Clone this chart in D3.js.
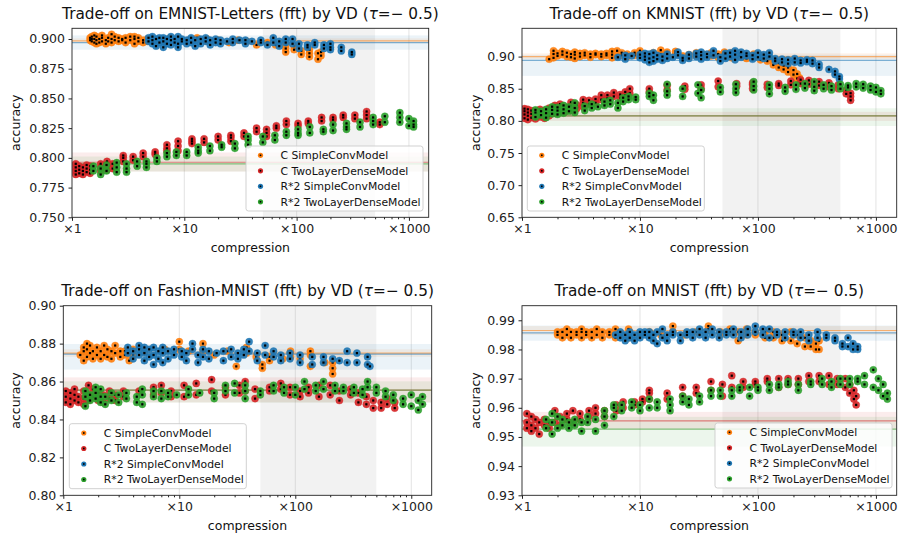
<!DOCTYPE html>
<html>
<head>
<meta charset="utf-8">
<script src="https://cdn.jsdelivr.net/npm/d3@7"></script>
<style>
  body { margin: 0; background: #fff; }
  svg { font-family: "DejaVu Sans", sans-serif; }
</style>
</head>
<body>
<svg id="chart" width="900" height="537"></svg>
<script>
// ---- shared labels ----
const seriesNames = ["C SimpleConvModel", "C TwoLayerDenseModel", "R*2 SimpleConvModel", "R*2 TwoLayerDenseModel"];
const seriesColors = ["#ff7f0e", "#d62728", "#1f77b4", "#2ca02c"];
const xTickValues = [1, 10, 100, 1000];
const xTickLabels = ["×1", "×10", "×100", "×1000"];
const shadeRange = [50, 500];

// ---- EMNIST-Letters: [compression, [accuracy runs]] ----
const emnistConvC = [[1.45,[0.899,0.901]],[1.5,[0.900,0.898,0.902]],[1.58,[0.897,0.900,0.903]],[1.65,[0.899,0.896,0.902]],[1.75,[0.900,0.897]],[1.85,[0.898,0.901,0.903]],[2.0,[0.899,0.896]],[2.1,[0.901,0.898]],[2.25,[0.900,0.904,0.897]],[2.4,[0.899,0.902]],[2.6,[0.898,0.901]],[2.8,[0.899,0.900]],[3.0,[0.897,0.901]],[3.3,[0.899,0.902]],[3.6,[0.900,0.902,0.896]],[3.9,[0.898,0.901]],[4.3,[0.899,0.897]],[4.7,[0.900,0.898]],[6.5,[0.899]],[7.5,[0.901]],[9,[0.900]],[11,[0.899]],[13,[0.901]],[16,[0.900,0.898]],[20,[0.899]],[25,[0.897]],[30,[0.899]],[36,[0.898]],[44,[0.895]],[55,[0.897]],[65,[0.895]],[80,[0.889,0.892,0.895]],[95,[0.891,0.894]],[110,[0.887,0.890]],[130,[0.885,0.888,0.891]],[155,[0.883,0.888]],[165,[0.886,0.889]]];
const emnistDenseC = [[1.08,[0.786,0.789,0.792,0.795]],[1.16,[0.787,0.790,0.793]],[1.25,[0.786,0.789,0.792]],[1.35,[0.788,0.791,0.794]],[1.45,[0.787,0.790,0.793]],[1.8,[0.789,0.792,0.795]],[2.05,[0.790,0.794,0.797]],[2.3,[0.791,0.795]],[2.86,[0.797,0.800,0.802]],[3.5,[0.798,0.801]],[4.3,[0.801,0.804]],[5.5,[0.803,0.805]],[7,[0.806,0.808,0.811]],[8.8,[0.806,0.810,0.814]],[11.7,[0.812,0.814,0.816]],[15,[0.813,0.816]],[20,[0.815,0.818]],[26,[0.814,0.817,0.819]],[34,[0.818,0.821]],[44,[0.822,0.825]],[54,[0.818,0.821,0.824]],[66,[0.825,0.827]],[81,[0.828,0.831]],[103,[0.827,0.829]],[127,[0.829,0.831]],[167,[0.831,0.834]],[211,[0.832,0.834]],[260,[0.834,0.836]],[330,[0.833,0.836]],[420,[0.833,0.836,0.839]],[550,[0.828,0.830]]];
const emnistConvR = [[4.8,[0.898,0.901]],[5.2,[0.896,0.899,0.902]],[5.6,[0.894,0.900]],[6.0,[0.897,0.901]],[6.5,[0.893,0.898,0.901]],[7.0,[0.896,0.900]],[7.6,[0.895,0.899,0.902]],[8.2,[0.897,0.900]],[8.8,[0.893,0.896,0.902]],[9.5,[0.898,0.900]],[10.5,[0.896,0.899]],[11.5,[0.897,0.901]],[12.5,[0.894,0.899]],[14,[0.896,0.900]],[15.5,[0.898,0.901]],[17,[0.895,0.899]],[19,[0.897,0.900]],[21,[0.896,0.899]],[24,[0.898]],[27,[0.897,0.900]],[31,[0.899]],[35,[0.896,0.899]],[40,[0.898]],[48,[0.897,0.899]],[55,[0.895]],[62,[0.897,0.901]],[70,[0.894,0.898]],[80,[0.897,0.900]],[92,[0.896,0.900]],[105,[0.892,0.896]],[125,[0.893,0.895]],[145,[0.895,0.897]],[175,[0.892,0.895]],[200,[0.891,0.893,0.896]],[250,[0.890,0.893]],[310,[0.887,0.889]]];
const emnistDenseR = [[1.55,[0.789,0.793]],[1.8,[0.786,0.791]],[2.03,[0.789,0.794]],[2.5,[0.788,0.792,0.796]],[3.06,[0.788,0.791,0.795]],[3.8,[0.793,0.797]],[4.6,[0.792,0.795,0.797]],[5.7,[0.797,0.800]],[7,[0.801,0.804]],[8.5,[0.802,0.805]],[10.5,[0.802,0.805]],[13.3,[0.804,0.806,0.809]],[16.9,[0.806,0.810]],[21.5,[0.809,0.811]],[28.2,[0.808,0.812]],[37,[0.811,0.815,0.818]],[50,[0.813,0.818]],[64,[0.815,0.819]],[81,[0.819,0.822]],[103,[0.819,0.821,0.824]],[131,[0.821,0.826]],[173,[0.822,0.824]],[211,[0.823,0.828]],[278,[0.824,0.826,0.829]],[367,[0.826,0.830]],[480,[0.828,0.831,0.834]],[610,[0.830,0.835]],[830,[0.830,0.834,0.838]],[1000,[0.827,0.833]],[1100,[0.826,0.828,0.831]]];
const emnistBase = [[0.8985,0.8965,0.9005],[0.7963,0.7885,0.8045],[0.8970,0.8910,0.9030],[0.7950,0.7885,0.8011]];

// ---- KMNIST ----
const kmnistConvC = [[1.7,[0.896]],[1.85,[0.898,0.904,0.909]],[2.0,[0.901,0.905]],[2.2,[0.903,0.908]],[2.4,[0.900,0.906]],[2.6,[0.899,0.904]],[2.8,[0.897,0.903,0.907]],[3.1,[0.900,0.905]],[3.4,[0.902,0.906]],[3.8,[0.899,0.904]],[4.2,[0.903,0.905]],[4.7,[0.900,0.904]],[5.2,[0.902,0.905]],[5.8,[0.898,0.903,0.908]],[6.4,[0.901,0.909]],[7.0,[0.902,0.906]],[7.8,[0.900,0.904]],[9.0,[0.902,0.906]],[10,[0.905,0.909]],[11.5,[0.903]],[13,[0.906]],[15,[0.904,0.910]],[17,[0.902,0.907]],[20,[0.905,0.908]],[23,[0.901]],[26,[0.899,0.903]],[30,[0.902,0.906]],[35,[0.903]],[40,[0.901,0.906]],[46,[0.899,0.904]],[52,[0.902,0.907]],[60,[0.898,0.906]],[70,[0.901,0.905]],[80,[0.897,0.903]],[92,[0.900,0.904]],[105,[0.895,0.902]],[120,[0.893,0.899]],[135,[0.887,0.894]],[150,[0.883,0.890]],[165,[0.880,0.886]],[180,[0.876,0.883]],[200,[0.872,0.879]],[215,[0.866,0.873]],[225,[0.862,0.867]]];
const kmnistDenseC = [[1.05,[0.804,0.810,0.815,0.819]],[1.12,[0.802,0.808,0.813,0.818]],[1.2,[0.805,0.811,0.816]],[1.3,[0.803,0.809,0.815]],[1.42,[0.806,0.812,0.818]],[1.55,[0.804,0.810,0.816]],[1.7,[0.808,0.814,0.820]],[1.9,[0.812,0.818,0.824]],[2.1,[0.814,0.820,0.826]],[2.35,[0.815,0.821]],[2.6,[0.816,0.823,0.829]],[2.9,[0.819,0.825]],[3.3,[0.822,0.828,0.833]],[3.7,[0.826,0.832]],[4.2,[0.828,0.834]],[4.7,[0.833,0.840]],[5.3,[0.835,0.840]],[6.0,[0.838,0.844]],[6.8,[0.836,0.841]],[7.5,[0.840,0.845]],[8.2,[0.843,0.850]],[12,[0.845,0.850]],[17,[0.848,0.855]],[24,[0.849,0.854]],[33,[0.850,0.856]],[46,[0.853,0.862]],[66,[0.854,0.858]],[90,[0.850,0.856,0.859]],[120,[0.852,0.857]],[150,[0.855,0.858]],[190,[0.856,0.862]],[230,[0.858,0.864]],[270,[0.857,0.863]],[330,[0.855,0.861]],[400,[0.853,0.859]],[480,[0.850,0.856]],[560,[0.842,0.848]],[610,[0.832,0.838,0.843]]];
const kmnistConvR = [[6.5,[0.899]],[7.5,[0.896,0.902]],[8.5,[0.901]],[10,[0.898,0.903]],[11,[0.895,0.900,0.905]],[12,[0.891,0.897,0.904]],[13,[0.893,0.899,0.906]],[14,[0.896,0.902]],[15.5,[0.894,0.900]],[17,[0.897,0.904]],[19,[0.899]],[21,[0.902,0.907]],[23,[0.894,0.898]],[26,[0.897,0.903]],[30,[0.900,0.905]],[33,[0.896,0.902,0.907]],[37,[0.899,0.904]],[42,[0.902,0.909]],[48,[0.893,0.899]],[53,[0.897,0.905]],[58,[0.900,0.906]],[64,[0.895,0.903,0.909]],[72,[0.899,0.907]],[80,[0.901,0.905]],[90,[0.896,0.902]],[100,[0.899,0.906]],[112,[0.897,0.903]],[125,[0.900,0.906]],[140,[0.893,0.897]],[160,[0.891,0.896]],[180,[0.889,0.895]],[205,[0.891,0.897]],[230,[0.890,0.894]],[260,[0.892,0.895]],[290,[0.889,0.894]],[330,[0.883,0.888]],[400,[0.880]],[450,[0.872,0.877]],[490,[0.865,0.869]]];
const kmnistDenseR = [[1.3,[0.806,0.813,0.817]],[1.45,[0.809,0.815]],[1.6,[0.805,0.812,0.818]],[1.8,[0.811,0.817,0.822]],[2.0,[0.810,0.816,0.821]],[2.25,[0.812,0.818,0.824]],[2.5,[0.815,0.822]],[2.8,[0.813,0.820,0.828]],[3.4,[0.816,0.823]],[3.9,[0.820,0.826]],[4.4,[0.822]],[5.0,[0.824,0.830]],[5.6,[0.826,0.832]],[6.5,[0.820,0.828]],[7.2,[0.830,0.836]],[8.0,[0.833,0.838]],[9.2,[0.833,0.837]],[12,[0.838,0.843]],[13,[0.832,0.840]],[17,[0.840,0.846,0.857]],[23,[0.838,0.850]],[31,[0.843,0.856]],[33,[0.836,0.848]],[48,[0.845,0.852]],[65,[0.844,0.850,0.857]],[92,[0.848,0.854,0.861]],[125,[0.842,0.850,0.856]],[170,[0.846,0.852]],[210,[0.849,0.856]],[250,[0.851,0.858]],[300,[0.847,0.853,0.861]],[360,[0.850,0.856]],[420,[0.848,0.854]],[500,[0.850,0.857]],[580,[0.852,0.855]],[680,[0.853,0.858]],[780,[0.851,0.857]],[900,[0.848,0.854]],[1000,[0.845,0.852]],[1100,[0.842,0.847]]];
const kmnistBase = [[0.9000,0.8960,0.9050],[0.8077,0.8000,0.8140],[0.8940,0.8700,0.9026],[0.8077,0.7920,0.8196]];

// ---- Fashion-MNIST ----
const fashionConvC = [[1.4,[0.874]],[1.5,[0.871,0.876,0.878]],[1.6,[0.873,0.877,0.880]],[1.7,[0.875,0.879]],[1.8,[0.872,0.876]],[1.95,[0.874,0.878]],[2.1,[0.872,0.876]],[2.25,[0.874,0.879]],[2.4,[0.873,0.877]],[2.6,[0.872,0.876]],[2.8,[0.875,0.879]],[3.1,[0.873,0.876]],[3.4,[0.874,0.876]],[3.7,[0.871,0.875]],[4.0,[0.874,0.877]],[5.0,[0.876]],[7.5,[0.877]],[10,[0.877,0.881]],[12,[0.876]],[16,[0.876,0.880]],[20,[0.874]],[26,[0.876]],[31,[0.868]],[38,[0.875,0.878]],[46,[0.873]],[52,[0.867,0.869]],[60,[0.871,0.873]],[78,[0.872]],[91,[0.873,0.876]],[110,[0.872]],[135,[0.868,0.874,0.876]],[180,[0.870]],[210,[0.864,0.867,0.870]]];
const fashionDenseC = [[1.05,[0.849,0.852,0.855]],[1.15,[0.848,0.851,0.854]],[1.25,[0.850,0.853,0.856]],[1.35,[0.849,0.852]],[1.5,[0.848,0.851,0.855]],[1.65,[0.850,0.853,0.858]],[1.8,[0.852,0.856]],[2.0,[0.850,0.854]],[2.2,[0.849,0.853]],[2.5,[0.851,0.855]],[2.8,[0.850,0.853]],[3.3,[0.852,0.855]],[4.5,[0.855]],[6.0,[0.853,0.857]],[7.0,[0.854,0.858]],[8.5,[0.852,0.855]],[11,[0.852,0.858]],[14,[0.853,0.859]],[19,[0.855,0.861]],[25,[0.853,0.857]],[33,[0.854,0.858]],[37,[0.855,0.860]],[45,[0.851,0.856]],[60,[0.855,0.857]],[75,[0.856,0.859]],[90,[0.853,0.857]],[110,[0.852,0.855]],[130,[0.854,0.857]],[160,[0.852,0.858]],[200,[0.853,0.858]],[240,[0.850,0.855]],[300,[0.853,0.856]],[350,[0.849,0.854]],[410,[0.848,0.852]],[470,[0.846,0.850]],[550,[0.846,0.849]],[620,[0.848,0.851]],[720,[0.846,0.849]]];
const fashionConvR = [[3.6,[0.875,0.878]],[4.0,[0.872,0.876]],[4.5,[0.874,0.877,0.879]],[5.0,[0.871,0.875,0.878]],[5.5,[0.873,0.877]],[6.0,[0.869,0.874,0.878]],[6.6,[0.872,0.876]],[7.2,[0.870,0.875,0.878]],[8.0,[0.872,0.876]],[9.0,[0.874,0.877]],[10.5,[0.873,0.876]],[11.5,[0.871,0.875]],[13,[0.877,0.880]],[14.5,[0.870,0.874]],[16,[0.873,0.877]],[18,[0.872,0.876]],[21,[0.875]],[24,[0.871,0.876]],[28,[0.873,0.877]],[32,[0.872,0.875]],[36,[0.874,0.877]],[40,[0.876,0.881]],[47,[0.871,0.875]],[55,[0.874,0.879]],[65,[0.873,0.876]],[75,[0.871,0.874]],[90,[0.872,0.875]],[110,[0.870,0.874]],[140,[0.869,0.873]],[175,[0.870,0.873]],[210,[0.872]],[240,[0.871]],[280,[0.870,0.876]],[340,[0.870,0.875]],[420,[0.869,0.873]],[440,[0.868]]];
const fashionDenseR = [[1.55,[0.847,0.852,0.855]],[1.7,[0.850,0.853]],[1.9,[0.851,0.854,0.857]],[2.1,[0.849,0.852,0.856]],[2.3,[0.848,0.852]],[2.6,[0.850,0.854]],[3.0,[0.849,0.853]],[3.5,[0.851,0.854]],[4.3,[0.849,0.852]],[4.8,[0.848,0.853,0.856]],[6.0,[0.852,0.855]],[7.0,[0.851,0.855]],[8.0,[0.852,0.854]],[9.5,[0.853]],[12,[0.853,0.856]],[15,[0.854]],[20,[0.851,0.854]],[25,[0.855,0.858]],[30,[0.854,0.859]],[37,[0.851,0.855,0.858]],[50,[0.853,0.855]],[65,[0.855,0.858]],[80,[0.854,0.857]],[100,[0.853,0.857]],[120,[0.856,0.860]],[150,[0.855,0.858]],[175,[0.856,0.860]],[220,[0.855,0.858]],[260,[0.855,0.857]],[320,[0.854,0.857]],[380,[0.853,0.856]],[420,[0.857,0.860]],[500,[0.854,0.857]],[600,[0.852,0.855]],[700,[0.850,0.853]],[850,[0.848,0.851]],[1000,[0.847,0.853]],[1150,[0.845,0.850]],[1250,[0.848,0.852]]];
const fashionBase = [[0.8750,0.8730,0.8770],[0.8555,0.8490,0.8622],[0.8745,0.8663,0.8798],[0.8555,0.8489,0.8601]];

// ---- MNIST ----
const mnistConvC = [[2.0,[0.985,0.986]],[2.2,[0.984,0.986]],[2.4,[0.985,0.987]],[2.6,[0.984,0.986]],[2.9,[0.985,0.986]],[3.2,[0.984,0.986,0.987]],[3.5,[0.985,0.986]],[3.9,[0.984,0.986]],[4.3,[0.985,0.987]],[4.8,[0.984,0.986]],[5.5,[0.985,0.986]],[6.2,[0.984,0.987]],[7,[0.985]],[8,[0.984,0.987]],[10,[0.985]],[12,[0.986]],[15,[0.985]],[19,[0.986,0.988]],[24,[0.985]],[30,[0.986]],[38,[0.987,0.988]],[48,[0.985,0.986]],[58,[0.986,0.987]],[68,[0.983,0.986]],[80,[0.985,0.987]],[95,[0.985,0.986]],[115,[0.984,0.986]],[135,[0.984,0.986]],[160,[0.983,0.985]],[190,[0.983,0.986]],[215,[0.982,0.985]],[250,[0.981,0.984]],[280,[0.981,0.983]],[310,[0.980,0.982]],[330,[0.980,0.983]]];
const mnistDenseC = [[1.1,[0.953,0.955,0.958]],[1.2,[0.952,0.954,0.957]],[1.3,[0.953,0.956]],[1.4,[0.951,0.955]],[1.55,[0.954,0.956]],[1.7,[0.953,0.955]],[1.9,[0.955,0.959]],[2.1,[0.954,0.957]],[2.4,[0.956,0.958]],[2.7,[0.955,0.959]],[3.1,[0.956,0.958]],[3.7,[0.957,0.959]],[4.2,[0.958,0.960]],[5.0,[0.957,0.959]],[6.3,[0.959,0.961]],[7.2,[0.960,0.962]],[9,[0.961,0.962]],[10.5,[0.962,0.963]],[12,[0.963,0.965,0.966]],[17,[0.963,0.965]],[23,[0.964,0.967]],[30,[0.965,0.967]],[40,[0.966,0.969]],[50,[0.964,0.968]],[60,[0.967,0.971]],[75,[0.967,0.969]],[95,[0.968,0.969]],[120,[0.969,0.970]],[150,[0.967,0.970]],[180,[0.968,0.970]],[220,[0.968,0.970]],[270,[0.969,0.971]],[330,[0.969,0.971]],[400,[0.968,0.971]],[470,[0.968,0.970]],[550,[0.967,0.970]],[600,[0.965,0.968]],[650,[0.963,0.966]],[680,[0.961,0.964]]];
const mnistConvR = [[6.2,[0.985]],[6.8,[0.984,0.986]],[7.5,[0.983,0.985]],[8.2,[0.984,0.986]],[9,[0.983,0.985]],[10,[0.984,0.986]],[11,[0.985,0.986]],[12,[0.984,0.986]],[13,[0.983,0.985]],[14,[0.982,0.986]],[15.5,[0.984,0.987]],[17,[0.983,0.985]],[19,[0.985,0.986]],[22,[0.983,0.985]],[25,[0.985,0.986]],[28,[0.984,0.986]],[32,[0.985,0.987]],[36,[0.984,0.986]],[41,[0.985,0.987]],[47,[0.984,0.986]],[54,[0.985,0.986]],[62,[0.985,0.987]],[72,[0.984,0.986]],[82,[0.985,0.987]],[95,[0.986,0.988]],[110,[0.985,0.987]],[125,[0.984,0.987]],[145,[0.985,0.986]],[170,[0.984,0.986]],[200,[0.985,0.986]],[230,[0.984,0.986]],[270,[0.983,0.985]],[320,[0.984,0.986]],[380,[0.984,0.985]],[450,[0.983,0.984]],[520,[0.981,0.982]],[580,[0.981,0.984]],[640,[0.980,0.982]],[700,[0.980,0.981]]];
const mnistDenseR = [[1.6,[0.953,0.956]],[1.8,[0.951,0.955,0.958]],[2.0,[0.953,0.957]],[2.2,[0.954,0.956]],[2.5,[0.953,0.955]],[2.8,[0.954,0.956]],[3.2,[0.952,0.955]],[3.6,[0.955,0.957]],[4.2,[0.952,0.956]],[5.0,[0.954,0.957,0.959]],[6.0,[0.957,0.960,0.961]],[7.0,[0.959,0.961]],[8.5,[0.960,0.962]],[10,[0.959,0.961]],[12,[0.960,0.963]],[14,[0.960,0.962]],[18,[0.959,0.961,0.963]],[23,[0.962,0.964]],[26,[0.961,0.963]],[32,[0.962,0.964]],[40,[0.964,0.966]],[48,[0.964,0.966]],[60,[0.964,0.966]],[70,[0.966,0.967]],[85,[0.964,0.967]],[100,[0.966,0.967]],[125,[0.966,0.968]],[150,[0.967,0.968]],[180,[0.968,0.969]],[220,[0.966,0.968]],[280,[0.968,0.969]],[350,[0.968,0.970]],[420,[0.967,0.969]],[500,[0.968,0.970]],[600,[0.968,0.970]],[700,[0.969,0.970]],[800,[0.968,0.971]],[950,[0.967,0.973]],[1050,[0.966,0.970]],[1150,[0.964,0.968]],[1250,[0.963,0.965]]];
const mnistBase = [[0.9865,0.9850,0.9880],[0.9555,0.9525,0.9586],[0.9857,0.9830,0.9882],[0.9527,0.9467,0.9569]];

// y ticks per panel
const emnistYTicks = [0.750, 0.775, 0.800, 0.825, 0.850, 0.875, 0.900];
const kmnistYTicks = [0.65, 0.70, 0.75, 0.80, 0.85, 0.90];
const fashionYTicks = [0.80, 0.82, 0.84, 0.86, 0.88, 0.90];
const mnistYTicks = [0.93, 0.94, 0.95, 0.96, 0.97, 0.98, 0.99];

// half-length of error bars (accuracy units)
const errHalf = [0.0025, 0.004, 0.0015, 0.0007];

const panels = [
  { name: "EMNIST-Letters", box: [72, 28.3, 428.7, 217.3], yDomain: [0.75, 0.909], yTicks: emnistYTicks, fmt: ".3f",
    series: [emnistConvC, emnistDenseC, emnistConvR, emnistDenseR], base: emnistBase, err: errHalf[0], legend: [246, 146] },
  { name: "KMNIST", box: [522, 28.3, 896.7, 217.3], yDomain: [0.65, 0.944], yTicks: kmnistYTicks, fmt: ".2f",
    series: [kmnistConvC, kmnistDenseC, kmnistConvR, kmnistDenseR], base: kmnistBase, err: errHalf[1], legend: [527.3, 146] },
  { name: "Fashion-MNIST", box: [63.3, 305.7, 431.7, 495.3], yDomain: [0.80, 0.90], yTicks: fashionYTicks, fmt: ".2f",
    series: [fashionConvC, fashionDenseC, fashionConvR, fashionDenseR], base: fashionBase, err: errHalf[2], legend: [69.3, 423.7] },
  { name: "MNIST", box: [522, 305.7, 896.7, 495.3], yDomain: [0.93, 0.995], yTicks: mnistYTicks, fmt: ".2f",
    series: [mnistConvC, mnistDenseC, mnistConvR, mnistDenseR], base: mnistBase, err: errHalf[3], legend: [715, 423] }
];

const svg = d3.select("#chart");

panels.forEach(p => {
  const [x0, y0, x1, y1] = p.box;
  const x = d3.scaleLog().domain([1, 1500]).range([x0, x1]);
  const y = d3.scaleLinear().domain(p.yDomain).range([y1, y0]);
  const g = svg.append("g");

  const clipId = "clip-" + p.name.replace(/\W/g, "");
  svg.append("clipPath").attr("id", clipId)
    .append("rect").attr("x", x0).attr("y", y0).attr("width", x1 - x0).attr("height", y1 - y0);
  const inner = g.append("g").attr("clip-path", `url(#${clipId})`);

  // shaded compression window
  inner.append("rect")
    .attr("x", x(shadeRange[0])).attr("y", y0)
    .attr("width", x(shadeRange[1]) - x(shadeRange[0])).attr("height", y1 - y0)
    .attr("fill", "#000").attr("fill-opacity", 0.05);

  // vertical grid at decades
  inner.selectAll("line.grid").data(xTickValues.slice(1)).join("line")
    .attr("x1", d => x(d)).attr("x2", d => x(d)).attr("y1", y0).attr("y2", y1)
    .attr("stroke", "#b0b0b0").attr("stroke-opacity", 0.35).attr("stroke-width", 1);

  // baseline bands + lines
  p.base.forEach((b, i) => {
    inner.append("rect")
      .attr("x", x0).attr("width", x1 - x0)
      .attr("y", y(b[2])).attr("height", y(b[1]) - y(b[2]))
      .attr("fill", seriesColors[i]).attr("fill-opacity", 0.09);
  });
  p.base.forEach((b, i) => {
    inner.append("line")
      .attr("x1", x0).attr("x2", x1).attr("y1", y(b[0])).attr("y2", y(b[0]))
      .attr("stroke", seriesColors[i]).attr("stroke-opacity", 0.55).attr("stroke-width", 1.2);
  });

  // points
  p.series.forEach((s, i) => {
    const pts = s.flatMap(([c, accs]) => accs.map(a => ({ c, a })));
    const col = seriesColors[i];
    const sg = inner.append("g");
    sg.selectAll("line").data(pts).join("line")
      .attr("x1", d => x(d.c)).attr("x2", d => x(d.c))
      .attr("y1", d => y(d.a - p.err)).attr("y2", d => y(d.a + p.err))
      .attr("stroke", d3.color(col).darker(0.8)).attr("stroke-opacity", 0.6).attr("stroke-width", 1.3);
    sg.selectAll("circle").data(pts).join("circle")
      .attr("cx", d => x(d.c)).attr("cy", d => y(d.a)).attr("r", 3.6)
      .attr("fill", col).attr("fill-opacity", 0.9)
      .attr("stroke", col).attr("stroke-opacity", 0.4).attr("stroke-width", 0.8);
    sg.selectAll("rect").data(pts).join("rect")
      .attr("x", d => x(d.c) - 1.1).attr("y", d => y(d.a) - 1.1)
      .attr("width", 2.2).attr("height", 2.2).attr("fill", "#000");
  });

  // axes
  const xAxis = d3.axisBottom(x).tickValues(xTickValues).tickFormat((d, i) => xTickLabels[i]).tickSizeOuter(0).tickSize(3.5).tickPadding(3.5);
  const xa = g.append("g").attr("transform", `translate(0,${y1})`).call(xAxis);
  const minor = [];
  [1, 10, 100, 1000].forEach(dec => { for (let k = 2; k <= 9; k++) if (dec * k <= 1500) minor.push(dec * k); });
  g.append("g").attr("transform", `translate(0,${y1})`)
    .call(d3.axisBottom(x).tickValues(minor).tickFormat("").tickSizeOuter(0).tickSize(2))
    .call(a => a.select(".domain").remove());
  const yAxis = d3.axisLeft(y).tickValues(p.yTicks).tickFormat(d3.format(p.fmt)).tickSizeOuter(0).tickSize(3.5).tickPadding(3.5);
  const ya = g.append("g").attr("transform", `translate(${x0},0)`).call(yAxis);
  [xa, ya].forEach(a => {
    a.select(".domain").remove();
    a.selectAll("text").attr("font-size", 12.5).attr("fill", "#222").attr("font-family", "DejaVu Sans");
    a.selectAll("line").attr("stroke", "#222");
  });
  g.selectAll(".tick line").attr("stroke", "#222");

  // frame
  g.append("rect").attr("x", x0).attr("y", y0).attr("width", x1 - x0).attr("height", y1 - y0)
    .attr("fill", "none").attr("stroke", "#222").attr("stroke-width", 0.9);

  // title
  const t = g.append("text").attr("x", (x0 + x1) / 2).attr("y", y0 - 9.5)
    .attr("text-anchor", "middle").attr("font-size", 15.3).attr("fill", "#111");
  t.append("tspan").text(`Trade-off on ${p.name} (fft) by VD (`);
  t.append("tspan").attr("font-style", "italic").text("τ");
  t.append("tspan").text("=− 0.5)");

  // axis labels
  g.append("text").attr("x", (x0 + x1) / 2).attr("y", y1 + 34.5)
    .attr("text-anchor", "middle").attr("font-size", 12.5).attr("fill", "#111").text("compression");
  const ax = x0 < 200 ? 19.5 : 479.5;
  g.append("text").attr("transform", `translate(${ax},${(y0 + y1) / 2}) rotate(-90)`)
    .attr("text-anchor", "middle").attr("font-size", 12.5).attr("fill", "#111").text("accuracy");

  // legend
  const [lx, ly] = p.legend;
  const lg = g.append("g").attr("transform", `translate(${lx},${ly})`);
  lg.append("rect").attr("width", 177).attr("height", 65).attr("rx", 2.5)
    .attr("fill", "#fff").attr("fill-opacity", 0.8).attr("stroke", "#ccc").attr("stroke-width", 0.9);
  seriesNames.forEach((n, i) => {
    const ry = 9.3 + i * 15.5;
    lg.append("circle").attr("cx", 14.5).attr("cy", ry).attr("r", 2.6).attr("fill", seriesColors[i]);
    lg.append("rect").attr("x", 13.7).attr("y", ry - 0.8).attr("width", 1.6).attr("height", 1.6).attr("fill", "#000");
    lg.append("text").attr("x", 34.5).attr("y", ry + 3.8).attr("font-size", 10.8).attr("fill", "#111").text(n);
  });
});
</script>
</body>
</html>
